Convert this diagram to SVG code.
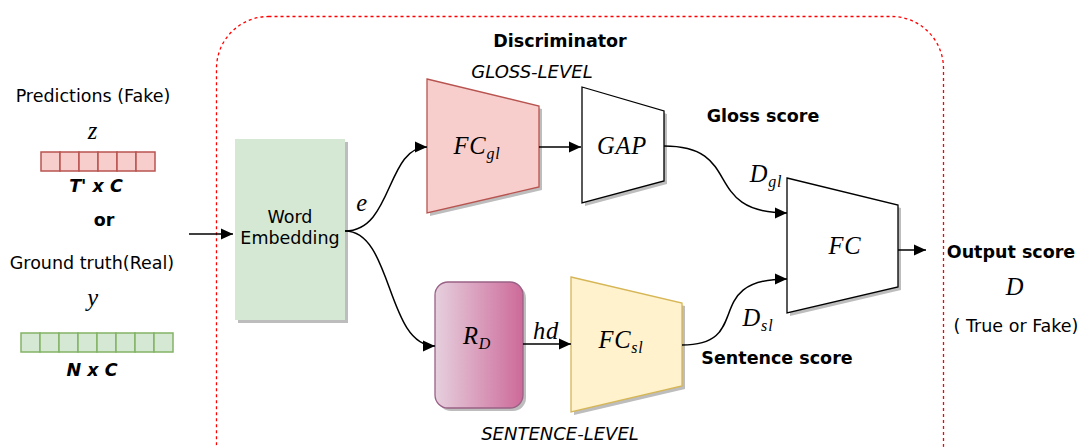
<svg xmlns="http://www.w3.org/2000/svg" width="1087" height="448" viewBox="0 0 1087 448">
<style>
.t{font-family:"DejaVu Sans",Verdana,sans-serif;font-size:17.5px;fill:#000}
.b{font-family:"DejaVu Sans",Verdana,sans-serif;font-size:17.5px;font-weight:bold;fill:#000}
.bi{font-family:"DejaVu Sans",Verdana,sans-serif;font-size:17.5px;font-weight:bold;font-style:italic;fill:#000}
.i{font-family:"DejaVu Sans",Verdana,sans-serif;font-size:18px;font-style:italic;fill:#000}
.m{font-family:"Liberation Serif","DejaVu Serif",serif;font-size:24.5px;font-style:italic;fill:#000;letter-spacing:0.8px}
.ms{font-family:"Liberation Serif","DejaVu Serif",serif;font-size:16px;font-style:italic;fill:#000}
.sh{fill:#bdbdbd;stroke:none}
.con{fill:none;stroke:#000;stroke-width:1.5}
.redc{fill:#f8cecc;stroke:#b85450;stroke-width:1.5}
.grnc{fill:#d5e8d4;stroke:#82b366;stroke-width:1.5}
</style>
<defs>
<marker id="ah" viewBox="0 0 10 10" refX="10" refY="5" markerWidth="12" markerHeight="12" markerUnits="userSpaceOnUse" orient="auto">
<path d="M0,0.5 L10,5 L0,9.5 Z" fill="#000"/>
</marker>
<linearGradient id="rg" x1="0" y1="0" x2="1" y2="0">
<stop offset="0" stop-color="#e6d0de"/>
<stop offset="1" stop-color="#cd6a99"/>
</linearGradient>
</defs>

<rect x="216.5" y="16.5" width="727" height="480" rx="52" fill="none" stroke="#ff0000" stroke-width="1.3" stroke-dasharray="3 3"/>

<g id="inputs">
<text class="t" x="93" y="102" text-anchor="middle">Predictions (Fake)</text>
<text class="m" x="93" y="139" text-anchor="middle">z</text>
<g class="redc">
<rect x="41" y="152" width="19" height="19"/><rect x="60" y="152" width="19" height="19"/><rect x="79" y="152" width="19" height="19"/><rect x="98" y="152" width="19" height="19"/><rect x="117" y="152" width="19" height="19"/><rect x="136" y="152" width="19" height="19"/>
</g>
<text class="bi" x="96" y="192" text-anchor="middle">T' x C</text>
<text class="b" x="104" y="226" text-anchor="middle">or</text>
<text class="t" x="92" y="269" text-anchor="middle">Ground truth(Real)</text>
<text class="m" x="93" y="306" text-anchor="middle">y</text>
<g class="grnc">
<rect x="21" y="333" width="19" height="19"/><rect x="40" y="333" width="19" height="19"/><rect x="59" y="333" width="19" height="19"/><rect x="78" y="333" width="19" height="19"/><rect x="97" y="333" width="19" height="19"/><rect x="116" y="333" width="19" height="19"/><rect x="135" y="333" width="19" height="19"/><rect x="154" y="333" width="19" height="19"/>
</g>
<text class="bi" x="92" y="376" text-anchor="middle">N x C</text>
</g>

<text id="title" class="b" x="560" y="47" text-anchor="middle">Discriminator</text>
<text class="i" x="532" y="78" text-anchor="middle">GLOSS-LEVEL</text>
<text class="i" x="560" y="440" text-anchor="middle">SENTENCE-LEVEL</text>

<g id="word-embedding">
<rect class="sh" x="238" y="142" width="110" height="181"/>
<rect x="235" y="139" width="110" height="181" fill="#d5e8d4" stroke="none"/>
<text class="t" x="290" y="223" text-anchor="middle">Word</text>
<text class="t" x="290" y="244" text-anchor="middle">Embedding</text>
</g>

<g id="fc-gl">
<polygon class="sh" points="430,82 542,109 542,190 430,216"/>
<polygon points="427,79 539,106 539,187 427,213" fill="#f8cecc" stroke="#b85450" stroke-width="1.3"/>
<text class="m" x="477" y="154" text-anchor="middle">FC<tspan class="ms" dy="5">gl</tspan></text>
</g>

<g id="gap">
<polygon class="sh" points="585,90 667,114 667,184 585,206"/>
<polygon points="582,87 664,111 664,181 582,203" fill="#fff" stroke="#000" stroke-width="1.3"/>
<text class="m" x="622" y="154" text-anchor="middle">GAP</text>
</g>

<g id="r-d">
<rect class="sh" x="438" y="285" width="88" height="126" rx="13"/>
<rect x="435" y="282" width="88" height="126" rx="13" fill="url(#rg)" stroke="#996185" stroke-width="1.3"/>
<text class="m" x="477" y="344" text-anchor="middle">R<tspan class="ms" dy="5">D</tspan></text>
</g>

<g id="fc-sl">
<polygon class="sh" points="574,280 685,306 685,389 574,415"/>
<polygon points="571,277 682,303 682,386 571,412" fill="#fff2cc" stroke="#d6b656" stroke-width="1.3"/>
<text class="m" x="621" y="348" text-anchor="middle">FC<tspan class="ms" dy="5">sl</tspan></text>
</g>

<g id="fc">
<polygon class="sh" points="790,181 901,208 901,290 790,316"/>
<polygon points="787,178 898,205 898,287 787,313" fill="#fff" stroke="#000" stroke-width="1.3"/>
<text class="m" x="845" y="254" text-anchor="middle">FC</text>
</g>

<g id="connectors">
<path class="con" d="M189,234 L233,234" marker-end="url(#ah)"/>
<path class="con" d="M345,231 C393,231 386,147 427,147" marker-end="url(#ah)"/>
<path class="con" d="M345,231 C393,231 386,346 435,346" marker-end="url(#ah)"/>
<path class="con" d="M539,147 L581,147" marker-end="url(#ah)"/>
<path class="con" d="M523,344 L571,344" marker-end="url(#ah)"/>
<path class="con" d="M664,146 C745,146 700,213 787,213" marker-end="url(#ah)"/>
<path class="con" d="M682,345 C755,345 700,279 787,279" marker-end="url(#ah)"/>
<path class="con" d="M898,250 L926,250" marker-end="url(#ah)"/>
</g>

<g id="labels">
<text class="m" x="362" y="211" text-anchor="middle">e</text>
<text class="m" x="546" y="339" text-anchor="middle">hd</text>
<text class="m" x="766" y="182" text-anchor="middle">D<tspan class="ms" dy="5">gl</tspan></text>
<text class="m" x="758" y="326" text-anchor="middle">D<tspan class="ms" dy="5">sl</tspan></text>
<text class="b" x="763" y="122" text-anchor="middle">Gloss score</text>
<text class="b" x="777" y="364" text-anchor="middle">Sentence score</text>
</g>

<g id="output">
<text class="b" x="1011" y="258" text-anchor="middle">Output score</text>
<text class="m" x="1015" y="295" text-anchor="middle">D</text>
<text class="t" x="1016" y="332" text-anchor="middle">( True or Fake)</text>
</g>
</svg>
